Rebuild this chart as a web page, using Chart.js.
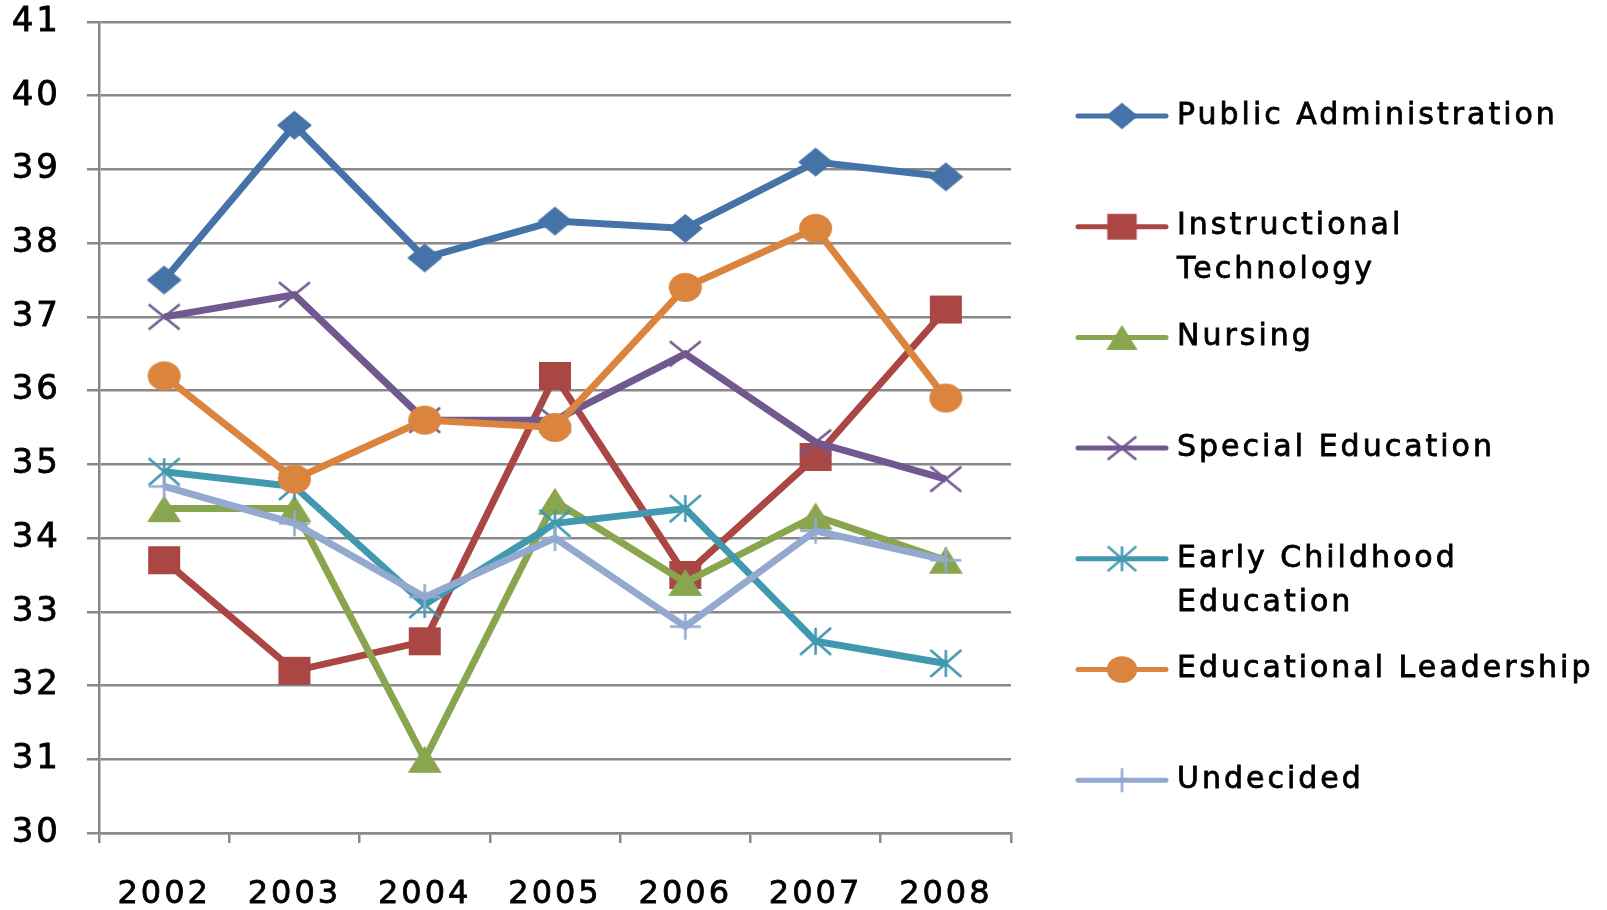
<!DOCTYPE html>
<html>
<head>
<meta charset="utf-8">
<title>Average age by program</title>
<script src="https://cdn.jsdelivr.net/npm/chart.js@4/dist/chart.umd.min.js"></script>
<style>
    html, body { margin: 0; padding: 0; background: #ffffff; overflow: hidden; }
    #wrap { width: 1607px; height: 910px; }
</style>
</head>
<body>
<div id="wrap"><canvas id="ageChart" width="1607" height="910"></canvas></div>
<script>
// Data
const years = ['2002', '2003', '2004', '2005', '2006', '2007', '2008'];

const publicAdmin       = [37.5, 39.6, 37.8, 38.3, 38.2, 39.1, 38.9];
const instructionalTech = [33.7, 32.2, 32.6, 36.2, 33.5, 35.1, 37.1];
const nursing           = [34.4, 34.4, 31.0, 34.5, 33.4, 34.3, 33.7];
const specialEd         = [37.0, 37.3, 35.6, 35.6, 36.5, 35.3, 34.8];
const earlyChildhood    = [34.9, 34.7, 33.1, 34.2, 34.4, 32.6, 32.3];
const eduLeadership     = [36.2, 34.8, 35.6, 35.5, 37.4, 38.2, 35.9];
const undecided         = [34.7, 34.2, 33.2, 34.0, 32.8, 34.1, 33.7];

const seriesNames = ['Public Administration', 'Instructional Technology', 'Nursing',
    'Special Education', 'Early Childhood Education', 'Educational Leadership', 'Undecided'];
const legendLines = [['Public Administration'], ['Instructional', 'Technology'], ['Nursing'],
    ['Special Education'], ['Early Childhood', 'Education'], ['Educational Leadership'], ['Undecided']];

const yMin = 30, yMax = 41, yStep = 1;

const colors = ['#4572A7', '#AA4643', '#89A54E', '#71588F', '#4198AF', '#DB843D', '#93A9CF'];
const markerKinds = ['diamond', 'square', 'triangle', 'x', 'star', 'circle', 'plus'];
const markerSizes = [[35, 29], [32, 28], [34, 27], [31, 25], [31, 27], [33, 29], [31, 26]];

const gridColor = '#898989';
const xTickFont = { family: "'DejaVu Sans', sans-serif", size: 32 };
const yTickFont = { family: "'DejaVu Sans', sans-serif", size: 34 };

// Excel-like markers (slightly wider than tall), drawn to small canvases
function makeMarker(kind, color, w, h, scale) {
    w *= scale; h *= scale;
    const pad = 3;
    const c = document.createElement('canvas');
    c.width = Math.round(w + pad * 2);
    c.height = Math.round(h + pad * 2);
    const g = c.getContext('2d');
    const cx = c.width / 2, cy = c.height / 2;
    const rx = w / 2, ry = h / 2;
    g.fillStyle = color;
    g.strokeStyle = color;
    g.lineWidth = 2.5;
    g.beginPath();
    switch (kind) {
        case 'diamond':
            g.moveTo(cx, cy - ry); g.lineTo(cx + rx, cy); g.lineTo(cx, cy + ry); g.lineTo(cx - rx, cy);
            g.closePath(); g.fill();
            break;
        case 'square':
            g.rect(cx - rx, cy - ry, 2 * rx, 2 * ry); g.fill();
            break;
        case 'triangle':
            g.moveTo(cx, cy - ry); g.lineTo(cx + rx, cy + ry); g.lineTo(cx - rx, cy + ry);
            g.closePath(); g.fill();
            break;
        case 'circle':
            g.ellipse(cx, cy, rx, ry, 0, 0, Math.PI * 2); g.fill();
            break;
        case 'x':
            g.moveTo(cx - rx, cy - ry); g.lineTo(cx + rx, cy + ry);
            g.moveTo(cx + rx, cy - ry); g.lineTo(cx - rx, cy + ry);
            g.stroke();
            break;
        case 'star':
            g.moveTo(cx - rx, cy - ry); g.lineTo(cx + rx, cy + ry);
            g.moveTo(cx + rx, cy - ry); g.lineTo(cx - rx, cy + ry);
            g.moveTo(cx, cy - ry); g.lineTo(cx, cy + ry);
            g.stroke();
            break;
        case 'plus':
            g.moveTo(cx - rx, cy); g.lineTo(cx + rx, cy);
            g.moveTo(cx, cy - ry); g.lineTo(cx, cy + ry);
            g.stroke();
            break;
    }
    return c;
}

const chartMarkers = colors.map((c, i) => makeMarker(markerKinds[i], c, markerSizes[i][0], markerSizes[i][1], 1));
const legendMarkers = colors.map((c, i) => makeMarker(markerKinds[i], c, markerSizes[i][0], markerSizes[i][1], 0.92));

const seriesValues = [publicAdmin, instructionalTech, nursing, specialEd, earlyChildhood, eduLeadership, undecided];

const datasets = seriesValues.map((values, i) => ({
    label: seriesNames[i],
    data: values,
    borderColor: colors[i],
    backgroundColor: colors[i],
    borderWidth: 7,
    pointStyle: chartMarkers[i],
    pointRadius: 15,
    tension: 0,
    order: seriesValues.length - i   // later series on top, like Excel
}));

// Legend on the right, with wrapped labels
const sideLegend = {
    id: 'sideLegend',
    beforeDraw(chart) {
        chart.ctx.letterSpacing = '3px';
    },
    afterDraw(chart) {
        const ctx = chart.ctx;
        const top = 116, step = 110.7, lineGap = 44;
        const x0 = 1078, x1 = 1166, textX = 1177;
        ctx.save();
        ctx.letterSpacing = '3px';
        ctx.font = "30px 'DejaVu Sans', sans-serif";
        ctx.textBaseline = 'middle';
        ctx.textAlign = 'left';
        chart.data.datasets.forEach((ds, i) => {
            const y = top + i * step;
            ctx.strokeStyle = ds.borderColor;
            ctx.lineWidth = 5;
            ctx.lineCap = 'round';
            ctx.beginPath();
            ctx.moveTo(x0, y);
            ctx.lineTo(x1, y);
            ctx.stroke();
            const m = legendMarkers[i];
            ctx.drawImage(m, (x0 + x1) / 2 - m.width / 2, y - m.height / 2);
            ctx.fillStyle = '#000000';
            ctx.strokeStyle = '#000000';
            ctx.lineWidth = 0.8;
            legendLines[i].forEach((line, k) => {
                ctx.fillText(line, textX, y + k * lineGap);
                ctx.strokeText(line, textX, y + k * lineGap);
            });
        });
        ctx.restore();
    }
};

new Chart(document.getElementById('ageChart'), {
    type: 'line',
    data: { labels: years, datasets: datasets },
    plugins: [sideLegend],
    options: {
        responsive: false,
        animation: false,
        devicePixelRatio: 1,
        layout: { padding: { left: 0, right: 596, top: 20, bottom: 0 } },
        plugins: {
            legend: { display: false },
            tooltip: { enabled: false }
        },
        scales: {
            x: {
                offset: true,
                grid: {
                    offset: true,
                    drawOnChartArea: false,
                    drawTicks: true,
                    tickLength: 10,
                    color: gridColor,
                    lineWidth: 2.5
                },
                border: { color: gridColor, width: 2.5 },
                ticks: {
                    font: xTickFont, color: '#000000', padding: 32, maxRotation: 0,
                    textStrokeColor: '#000000', textStrokeWidth: 0.8
                },
                afterFit: scale => {
                    scale.height = 77;
                    scale.paddingLeft = 0;
                    scale.paddingRight = 0;
                }
            },
            y: {
                min: yMin,
                max: yMax,
                grid: { color: gridColor, lineWidth: 2.5, tickLength: 12 },
                border: { color: gridColor, width: 2.5 },
                ticks: {
                    stepSize: yStep, font: yTickFont, color: '#000000', padding: 26,
                    textStrokeColor: '#000000', textStrokeWidth: 0.8
                },
                afterFit: scale => {
                    scale.width = 99;
                    scale.paddingTop = 0;
                    scale.paddingBottom = 0;
                }
            }
        }
    }
});
</script>
</body>
</html>
